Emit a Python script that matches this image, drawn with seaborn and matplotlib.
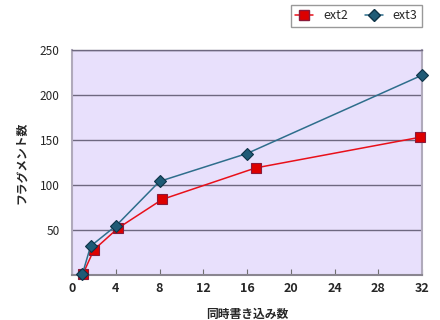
import matplotlib
matplotlib.use("Agg")
import matplotlib.pyplot as plt
import seaborn as sns
import pandas as pd
from matplotlib.lines import Line2D

# data
series_names = ["ext2", "ext3"]
ext2_x = [1.0, 2.0, 4.2, 8.25, 16.8, 31.8]
ext2_y = [1, 28, 52, 84, 119, 153]
ext3_x = [0.95, 1.7, 4.05, 8.0, 16.0, 32.0]
ext3_y = [1, 32, 55, 104, 135, 222]
x_ticks = [0, 4, 8, 12, 16, 20, 24, 28, 32]
y_ticks = [50, 100, 150, 200, 250]
x_title = "同時書き込み数"
y_title = "フラグメント数"

df = pd.concat([
    pd.DataFrame({"x": ext2_x, "y": ext2_y, "series": "ext2"}),
    pd.DataFrame({"x": ext3_x, "y": ext3_y, "series": "ext3"}),
], ignore_index=True)

sns.set_theme(style="white")
plt.rcParams["font.family"] = ["Noto Sans CJK JP", "DejaVu Sans"]

fig = plt.figure(figsize=(4.4, 3.2), dpi=100)
ax = fig.add_axes([72/440, 45/320, 350/440, 225/320])
ax.set_facecolor("#E8E0FC")

palette = {"ext2": "#E8101A", "ext3": "#2E6E8C"}
markers = {"ext2": "s", "ext3": "D"}
msize = {"ext2": 6.8, "ext3": 6.3}
face = {"ext2": "#DD0000", "ext3": "#1F5B76"}
edge = {"ext2": "#8A1A3A", "ext3": "#0E3347"}

for name in series_names:
    sub = df[df["series"] == name]
    sns.lineplot(data=sub, x="x", y="y", ax=ax, color=palette[name],
                 marker=markers[name], markersize=msize[name],
                 markerfacecolor=face[name], markeredgecolor=edge[name],
                 markeredgewidth=0.8, linewidth=1.1,
                 sort=False, estimator=None, legend=False, zorder=3, clip_on=False)

ax.set_xlim(0, 32)
ax.set_ylim(0, 250)
ax.set_xticks(x_ticks)
ax.set_yticks(y_ticks)
ax.set_xticklabels([str(t) for t in x_ticks], fontweight="bold", fontsize=9)
ax.set_yticklabels([str(t) for t in y_ticks], fontsize=8.5)
ax.tick_params(axis="x", direction="in", length=4, width=0.8, color="#707070", pad=5, bottom=True)
ax.tick_params(axis="y", length=0, pad=9)
ax.yaxis.grid(True, color="#6E6880", linewidth=1.0)
ax.xaxis.grid(False)
ax.set_axisbelow(True)

for side in ["left", "right", "bottom"]:
    ax.spines[side].set_visible(True)
    ax.spines[side].set_color("#B0AABB")
    ax.spines[side].set_linewidth(1.5)
ax.spines["top"].set_visible(True)
ax.spines["top"].set_color("#6E6880")
ax.spines["top"].set_linewidth(1.0)
ax.spines["bottom"].set_color("#8A8690")

ax.set_xlabel(x_title, fontweight="bold", fontsize=8.5, labelpad=9)
ax.set_ylabel(y_title, fontweight="bold", fontsize=8.5, labelpad=8)

handles = [Line2D([], [], color=palette[n], marker=markers[n], markersize=msize[n],
                  markerfacecolor=face[n], markeredgecolor=edge[n], linewidth=1.1)
           for n in series_names]
leg = fig.legend(handles, series_names, loc="upper right", ncol=2,
                 bbox_to_anchor=(422/440, 1 - 5/320), borderaxespad=0,
                 frameon=True, fancybox=False,
                 edgecolor="#808080", fontsize=9, handlelength=1.4, columnspacing=1.4,
                 borderpad=0.35, handletextpad=0.8)
leg.get_frame().set_linewidth(1.0)

fig.savefig("out.png", dpi=100)
